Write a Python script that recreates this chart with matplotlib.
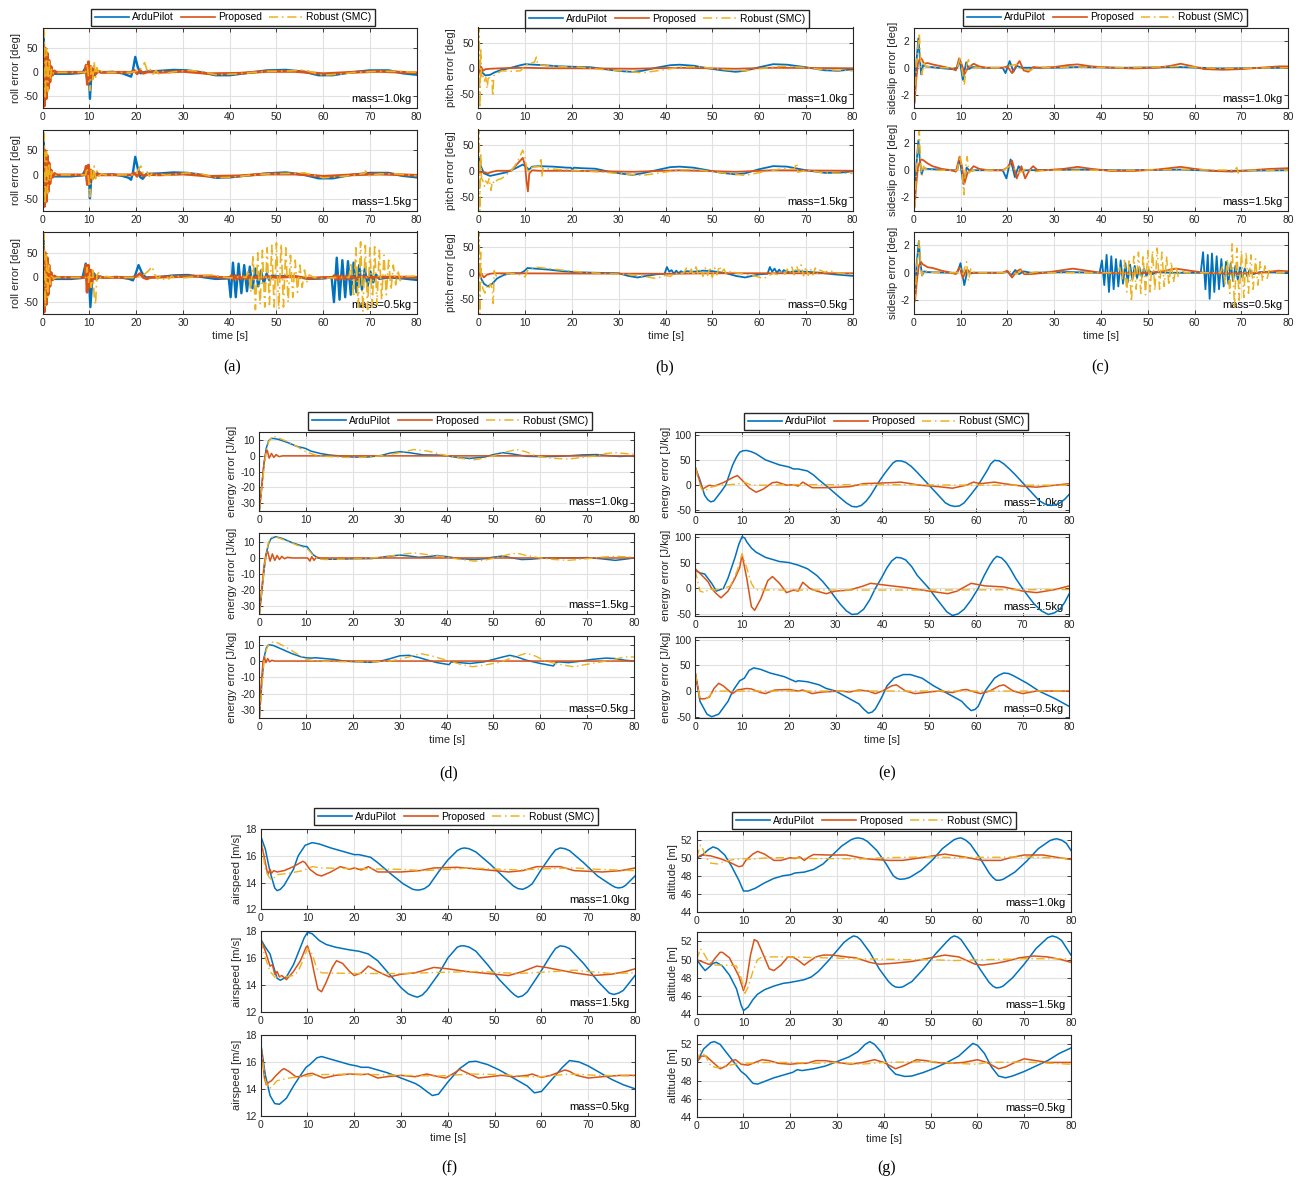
import matplotlib
matplotlib.use("Agg")
import matplotlib.pyplot as plt
from matplotlib.lines import Line2D

plt.rcParams['font.family'] = ['Liberation Sans', 'DejaVu Sans']
plt.rcParams['axes.unicode_minus'] = False

# ---------------- data (time [s], value) ----------------
series_labels = ["ArduPilot", "Proposed", "Robust (SMC)"]
mass_labels = ["mass=1.0kg", "mass=1.5kg", "mass=0.5kg"]
time_ticks = [0, 10, 20, 30, 40, 50, 60, 70, 80]

# (a) roll error [deg]
roll_10_ap = [(0,0),(0.2,85),(0.45,-30),(0.7,40),(0.95,-35),(1.2,20),(1.5,-12),(1.8,6),(2.2,-3),(3,-3),(6,-3),(8.5,-1),(9.2,10),(9.5,-15),(9.8,18),(10.1,-55),(10.4,-5),(10.7,8),(11.1,-6),(11.6,3),(12.5,0),(15,1),(17,-2),(18.4,-7),(18.9,-9),(19.3,5),(19.8,32),(20.3,12),(20.9,-2),(22,1),(25,3),(28,5),(31,4),(34,0),(37,-6),(40,-6),(44,-1),(48,4),(52,5),(56,1),(59,-6),(62,-6),(66,0),(70,4),(74,4),(77,-2),(80,-5)]
roll_10_pr = [(0,0),(0.15,60),(0.35,-70),(0.55,50),(0.75,-55),(0.95,40),(1.15,-35),(1.35,25),(1.55,-20),(1.8,12),(2.1,-6),(2.5,3),(3,0),(9,0),(9.3,15),(9.55,-25),(9.8,22),(10.05,-18),(10.3,12),(10.6,-10),(10.9,6),(11.3,-4),(11.8,2),(12.5,0),(19,0),(19.6,4),(20.2,-3),(20.8,4),(21.5,-2),(22.5,1),(25,0),(30,2),(36,-3),(42,-2),(48,2),(54,2),(60,-3),(66,0),(72,2),(80,-1)]
roll_10_smc = [(0,0),(0.3,88),(0.55,-55),(0.8,50),(1.05,-40),(1.3,28),(1.6,-15),(1.9,8),(2.3,-3),(3,0),(9.2,0),(9.5,18),(9.8,-10),(10.1,-38),(10.4,12),(10.7,-15),(11.0,22),(11.3,-10),(11.6,10),(12,-3),(12.5,2),(13.5,0),(19,0),(20,2),(21,8),(21.8,20),(22.4,2),(23,6),(23.6,-4),(24.2,4),(24.8,-3),(25.5,3),(26.5,-2),(28,1),(31,4),(34,2),(37,-5),(40,-4),(44,-1),(48,2),(53,3),(56,5),(58,-1),(60,-6),(63,-4),(67,0),(72,2),(76,2),(80,0)]

roll_15_ap = [(0,0),(0.2,85),(0.45,-35),(0.7,38),(0.95,-30),(1.2,18),(1.5,-10),(1.8,5),(2.2,-3),(3,-3),(6,-3),(8.5,-1),(9.2,12),(9.5,-15),(9.8,20),(10.1,-48),(10.4,-5),(10.7,8),(11.1,-5),(11.6,3),(12.5,0),(15,1),(17,-2),(18.4,-6),(18.9,-10),(19.3,5),(19.8,37),(20.3,15),(20.9,-5),(21.4,-8),(22.2,2),(25,3),(28,5),(31,4),(34,0),(37,-6),(40,-5),(44,-1),(48,3),(52,5),(56,0),(59,-7),(62,-7),(66,0),(70,4),(74,4),(77,-2),(80,-5)]
roll_15_pr = [(0,0),(0.15,55),(0.35,-65),(0.55,50),(0.75,-55),(0.95,40),(1.15,-35),(1.35,25),(1.55,-18),(1.8,10),(2.1,-5),(2.5,3),(3,0),(9,0),(9.3,18),(9.55,-20),(9.8,20),(10.05,-15),(10.3,10),(10.6,-8),(10.9,5),(11.3,-3),(11.8,2),(12.5,0),(19,0),(19.6,4),(20.2,-3),(20.8,5),(21.5,-2),(22.5,1),(25,0),(30,2),(36,-3),(42,-2),(48,2),(54,2),(60,-3),(66,0),(72,2),(80,-1)]
roll_15_smc = [(0,0),(0.3,85),(0.55,-60),(0.8,48),(1.05,-38),(1.3,25),(1.6,-14),(1.9,7),(2.3,-3),(3,0),(9.2,0),(9.5,15),(9.8,-8),(10.1,-45),(10.4,10),(10.7,-12),(11.0,18),(11.3,-8),(11.6,8),(12,-3),(12.5,2),(13.5,0),(19,0),(20,2),(20.5,12),(21.0,18),(21.5,4),(22.2,8),(22.8,-3),(23.4,3),(24,-2),(25,2),(26.5,-1),(28,1),(31,4),(34,2),(37,-6),(40,-5),(44,-1),(48,2),(53,3),(56,4),(58,-1),(60,-6),(63,-4),(67,0),(68.8,3),(69.1,8),(69.4,-2),(72,2),(76,2),(80,-2)]

roll_05_ap = [(0,0),(0.2,85),(0.45,-35),(0.7,40),(0.95,-30),(1.2,18),(1.5,-10),(1.8,5),(2.2,-3),(3,-3),(6,-3),(8.5,-1),(9.2,28),(9.5,-10),(9.8,15),(10.2,-60),(10.6,-5),(11,8),(11.5,-4),(12.2,2),(13,0),(16,1),(18.5,-3),(19.3,-6),(19.8,5),(20.5,25),(21.2,10),(22,0),(25,1),(28,4),(31,5),(34,1),(37,-3),(39.8,-2),(40.2,-40),(40.7,30),(41.3,-40),(41.9,28),(42.5,-32),(43.1,25),(43.7,-28),(44.3,22),(44.9,-22),(45.5,18),(46.1,-18),(46.7,14),(47.3,-12),(47.9,8),(48.5,-6),(49.1,4),(50,2),(53,3),(57,-3),(60,-2),(61.8,0),(62.3,-50),(62.9,40),(63.5,-45),(64.1,35),(64.7,-40),(65.3,33),(65.9,-35),(66.5,30),(67.1,-30),(67.7,25),(68.3,-25),(68.9,18),(69.5,-18),(70.1,12),(70.7,-10),(71.3,6),(72,-3),(74,0),(77,-2),(80,-5)]
roll_05_pr = [(0,0),(0.15,60),(0.35,-70),(0.55,50),(0.75,-55),(0.95,40),(1.15,-35),(1.35,25),(1.55,-18),(1.8,10),(2.1,-5),(2.5,3),(3,0),(9,0),(9.25,25),(9.5,-30),(9.75,25),(10.0,-20),(10.25,15),(10.5,-10),(10.8,6),(11.2,-3),(11.8,2),(12.5,0),(19,0),(20,2),(20.8,8),(21.5,0),(22.3,-3),(23,0),(30,2),(35,3),(38,0),(40,0),(40.4,4),(40.8,-4),(41.2,4),(41.6,-4),(42,3),(42.5,-3),(43,3),(43.5,-3),(44,2),(45,-2),(46,2),(47,-2),(48,2),(50,0),(54,2),(57,-2),(60,0),(62,0),(62.4,4),(62.8,-4),(63.2,4),(63.6,-4),(64,3),(64.5,-3),(65,3),(65.5,-3),(66,2),(67,-2),(68,2),(70,0),(75,1),(80,0)]
roll_05_smc = [(0,0),(0.3,88),(0.55,-60),(0.8,50),(1.05,-40),(1.3,25),(1.6,-14),(1.9,7),(2.3,-3),(3,0),(9.2,0),(9.5,20),(9.8,-10),(10.1,10),(10.4,-20),(10.7,15),(11.0,-35),(11.3,-55),(11.6,5),(12,10),(12.5,-3),(13.5,2),(15,0),(20,0),(21,3),(22,8),(22.8,15),(23.4,22),(24,5),(24.6,-3),(25.2,3),(25.8,-4),(26.4,3),(27,-3),(27.6,3),(28.2,-2),(29,2),(30,-1),(33,2),(36,5),(38,2),(40,-1),(42,1),(43.5,0),(44.0,15),(44.5,-30),(45.0,45),(45.5,-65),(46.0,50),(46.5,-55),(47.0,55),(47.5,-60),(48.0,60),(48.5,-55),(49.0,65),(49.5,-60),(50.0,70),(50.5,-65),(51.0,68),(51.5,-60),(52.0,60),(52.5,-50),(53.0,45),(53.5,-40),(54.0,35),(54.5,-30),(55.0,25),(55.5,-20),(56.0,15),(56.5,-10),(57.0,5),(58,0),(60,-2),(63,0),(65.5,0),(66,30),(66.5,-40),(67,60),(67.5,-60),(68,72),(68.5,-70),(69,65),(69.5,-65),(70,60),(70.5,-60),(71,62),(71.5,-55),(72,55),(72.5,-45),(73,45),(73.5,-35),(74,35),(74.5,-25),(75,25),(75.5,-15),(76,15),(76.5,-8),(77,5),(78,2),(80,3)]

# (b) pitch error [deg]
pitch_10_ap = [(0,15),(0.3,5),(0.8,-8),(1.5,-14),(2.5,-13),(3.5,-8),(5,-3),(7,1),(9,6),(10,8),(12,7),(14,6),(17,4),(20,3),(24,2),(28,-3),(31,-6),(33,-7),(35,-5),(38,1),(41,6),(43,7),(46,5),(49,0),(52,-4),(55,-7),(57,-5),(60,2),(63,8),(66,7),(70,2),(74,-4),(77,-5),(80,-2)]
pitch_10_pr = [(0,0),(0.1,15),(0.3,-8),(0.6,3),(1.0,-5),(1.5,-2),(2.5,-1),(5,0),(10,1),(15,0),(20,0),(33,-1),(43,1),(55,-1),(63,1),(80,0)]
pitch_10_smc = [(0,0),(0.2,80),(0.35,-78),(0.5,40),(0.7,-20),(1.0,-15),(1.3,-25),(1.6,-18),(1.9,-40),(2.1,-20),(2.5,-18),(2.9,-20),(3.1,-55),(3.3,-15),(4,-10),(5,-5),(7,-6),(9,-5),(10,5),(11,10),(12,12),(12.4,22),(12.7,8),(13.5,6),(15,5),(18,3),(22,2),(27,-3),(31,-5),(35,-9),(39,-4),(43,2),(47,3),(50,0),(53,-3),(57,-5),(61,0),(65,4),(69,2),(73,-2),(77,-4),(80,-5)]

pitch_15_ap = [(0,0),(0.2,25),(0.5,10),(1.2,-5),(2.5,-10),(4,-7),(6,-3),(8,5),(9.5,12),(10.3,7),(10.8,2),(11.5,8),(13,9),(16,8),(19,6),(19.8,6),(20.1,2),(20.4,6),(22,5),(25,4),(28,-2),(31,-6),(33,-8),(35,-5),(38,1),(41,7),(43,8),(46,6),(49,1),(52,-4),(55,-7),(57,-5),(60,3),(63,9),(66,8),(70,1),(74,-4),(77,-4),(80,-1)]
pitch_15_pr = [(0,0),(0.1,8),(0.4,-5),(1.0,-2),(2,-5),(3,-2),(4,0),(7,0),(8,10),(9.5,25),(10,10),(10.3,-20),(10.6,-40),(10.9,-5),(11.5,1),(13,0),(20,0),(33,-2),(43,1),(55,-2),(63,1),(80,0)]
pitch_15_smc = [(0,0),(0.2,80),(0.35,-78),(0.5,35),(0.7,-15),(1.0,-20),(1.3,-30),(1.6,-20),(2.0,-25),(2.3,-15),(2.7,-38),(3.0,-20),(3.5,-25),(4,-18),(5,-15),(6,-8),(7.5,5),(8.5,20),(9.5,40),(10,25),(10.5,-5),(11,5),(12,8),(13,8),(13.4,25),(13.6,-12),(13.8,5),(15,4),(18,2),(22,0),(27,-3),(31,-6),(35,-9),(39,-4),(43,2),(47,2),(50,-2),(53,-5),(57,-9),(61,-2),(65,4),(67.5,3),(68,15),(68.3,-3),(70,1),(74,-4),(78,-5),(80,-5)]

pitch_05_ap = [(0,0),(0.2,10),(0.6,-10),(1.2,-20),(2,-25),(3,-20),(4,-10),(5.5,-3),(7,0),(9,0),(9.8,4),(10.5,10),(12,9),(15,7),(18,4),(21,2),(25,1),(30,0),(32,-5),(34,-8),(36,-5),(38,-2),(39.8,-1),(40.3,12),(40.8,3),(41.3,6),(41.8,-1),(42.3,5),(42.8,0),(43.3,4),(43.8,1),(44.5,4),(46,3),(48,5),(50,4),(53,0),(55,-5),(57,-8),(58.5,-5),(60,-2),(61.8,-1),(62.3,12),(62.8,3),(63.3,9),(63.8,1),(64.3,7),(64.8,1),(65.3,6),(66,2),(68,4),(70,3),(73,1),(76,-2),(80,-5)]
pitch_05_pr = [(0,0),(0.15,8),(0.4,-8),(0.8,-3),(1.2,-8),(1.8,-3),(2.5,-1),(3.5,0),(40,-1),(50,0),(80,0)]
pitch_05_smc = [(0,0),(0.2,80),(0.35,-78),(0.5,40),(0.7,-15),(1.0,-30),(1.4,-38),(1.8,-25),(2.2,-30),(2.6,-20),(3.0,-30),(3.2,-58),(3.4,5),(3.8,-5),(5,-3),(7,0),(9,-3),(10,-7),(10.5,5),(12,12),(14,10),(17,7),(20,4),(24,1),(28,-1),(32,-2),(36,-7),(38,-10),(40,-4),(41,-6),(42,0),(43,-3),(44,2),(44.5,10),(45,-3),(45.5,8),(46,-5),(46.5,12),(47,-2),(47.5,8),(48,-6),(48.5,10),(49,-4),(49.5,12),(50,-8),(50.5,10),(51,-3),(51.5,14),(52,2),(52.5,8),(53,-2),(54,4),(55,1),(57,-2),(59,-5),(61,-10),(62,-5),(63,0),(64,-3),(65,5),(65.5,-2),(66,8),(66.5,0),(67,12),(67.5,-3),(68,14),(68.5,2),(69,16),(69.5,-5),(70,12),(70.5,-4),(71,8),(71.5,-3),(72,10),(72.5,-2),(73,6),(74,2),(75,5),(77,0),(80,-2)]

# (c) sideslip error [deg]
slip_10_ap = [(0,-2.2),(0.3,-1.5),(0.6,0.5),(1.0,2.2),(1.3,0.8),(1.6,-0.5),(2.0,0.2),(2.5,0.1),(5,0),(8,-0.1),(9.3,0),(9.8,0.6),(10.5,-0.9),(11.2,0.4),(11.8,-0.1),(12.5,0.05),(15,0),(19,0),(19.6,-0.4),(20.5,0.5),(21.3,-0.3),(22,0.15),(23,0),(30,0),(35,0.05),(45,0),(57,0.05),(65,-0.05),(80,0)]
slip_10_pr = [(0,-2.7),(0.2,-2.6),(0.5,-1.0),(0.9,0.3),(1.4,0.75),(1.8,0.6),(2.2,0.3),(3,0.35),(4,0.25),(6,0.1),(8,-0.05),(9,-0.2),(9.7,0.7),(10.3,0.2),(10.9,-0.45),(11.6,0.0),(12.8,0.3),(14,0.1),(15.5,0),(19,0),(20,0.1),(21,-0.4),(21.8,0.1),(22.6,0.5),(23.5,-0.2),(24.5,-0.3),(25.5,0.05),(27,0),(30,0.05),(33,0.2),(35,0.25),(38,0.1),(42,0),(47,-0.05),(52,0),(55,0.15),(57,0.3),(59,0.15),(62,-0.1),(66,-0.15),(70,-0.1),(74,0.0),(78,0.1),(80,0.1)]
slip_10_smc = [(0,-2.7),(0.3,-2.0),(0.6,0.5),(0.9,1.5),(1.2,2.6),(1.5,0.2),(1.8,-0.5),(2.1,0.5),(2.5,0.1),(5,0),(9.3,0),(9.9,0.7),(10.4,-0.3),(10.8,-1.3),(11.3,0.2),(11.7,0.6),(12.2,-0.1),(13,0),(19,0),(20.5,0.15),(22,0.25),(23,-0.1),(25,-0.2),(26,0.1),(28,0),(35,0.05),(45,0),(57,0.1),(65,-0.05),(80,0)]

slip_15_ap = [(0,-2.5),(0.3,-1.5),(0.6,0.5),(1.0,2.2),(1.3,0.8),(1.7,-0.3),(2.1,0.15),(3,0.1),(8,0),(9.3,0),(9.8,0.9),(10.6,-1.0),(11.3,0.2),(12,-0.05),(13,0),(19,0),(19.8,-0.6),(20.7,0.8),(21.6,-0.5),(22.4,0.3),(23.2,-0.05),(24,0),(35,0.05),(45,0),(57,0.05),(65,-0.05),(80,0)]
slip_15_pr = [(0,-2.8),(0.2,-2.7),(0.5,-1.2),(0.9,0.2),(1.5,0.8),(2,0.75),(3,0.5),(4,0.3),(6,0.1),(8,0),(9,-0.1),(9.8,1.0),(10.3,0.3),(10.8,-1.0),(11.5,-0.2),(12.8,0.3),(14,0.1),(16,0),(19,0),(20,0.2),(21,0.7),(22,-0.6),(23,0.3),(23.8,-0.6),(24.7,0),(25.5,0.3),(26.5,0),(28,0),(32,0.1),(35,0.25),(38,0.1),(42,-0.05),(47,-0.05),(52,0.05),(57,0.25),(60,0.1),(64,-0.05),(68,-0.1),(72,0),(76,0.1),(80,0.15)]
slip_15_smc = [(0,-2.8),(0.3,-2.5),(0.6,0.5),(0.9,1.6),(1.2,2.9),(1.5,0.3),(1.8,-0.4),(2.1,0.3),(2.5,0.1),(5,0),(9.3,0),(9.9,1.1),(10.4,-0.3),(10.7,-1.8),(11.1,0.3),(11.4,1.0),(11.8,-0.2),(12.5,0),(19,0),(20.5,0.3),(21.5,0.1),(22.5,-0.2),(24,0.1),(26,-0.1),(28,0),(45,0),(57,0.05),(68.5,0),(69,0.2),(69.3,-0.2),(69.6,0),(80,0)]

slip_05_ap = [(0,-2.2),(0.3,-1.6),(0.6,0.5),(1.1,2.3),(1.4,0.8),(1.8,-0.2),(2.2,0.1),(3,0.05),(8,0),(9.3,0),(10.0,0.7),(10.8,-0.9),(11.5,0.2),(12.2,-0.05),(13,0),(19,0),(20,0.1),(20.8,-0.2),(21.7,0.2),(22.5,-0.1),(23.5,0.1),(25,0),(33,0.05),(39.7,0),(40.2,0.9),(40.7,-0.9),(41.2,1.3),(41.7,-1.4),(42.2,1.2),(42.7,-1.2),(43.2,1.0),(43.7,-1.0),(44.2,0.9),(44.7,-0.8),(45.2,0.7),(45.7,-0.7),(46.2,0.6),(46.7,-0.5),(47.2,0.5),(47.7,-0.4),(48.2,0.4),(48.7,-0.3),(49.2,0.3),(49.7,-0.25),(50.2,0.2),(51,-0.1),(52,0.05),(55,0),(61.3,0),(61.8,1.5),(62.3,-1.2),(62.8,1.3),(63.2,-1.9),(63.7,1.4),(64.2,-1.4),(64.7,1.2),(65.2,-1.2),(65.7,1.0),(66.2,-1.0),(66.7,0.8),(67.2,-0.8),(67.7,0.7),(68.2,-0.6),(68.7,0.5),(69.2,-0.5),(69.7,0.4),(70.2,-0.35),(70.7,0.3),(71.2,-0.25),(71.7,0.2),(72.5,-0.1),(74,0.05),(80,0)]
slip_05_pr = [(0,-2.2),(0.3,-2.0),(0.7,-0.5),(1.1,0.5),(1.5,0.8),(2,0.6),(3,0.4),(4,0.35),(6,0.15),(8,0),(9,-0.1),(9.8,0.4),(10.5,-0.4),(11.2,0.2),(12,0),(19,0),(20,0.15),(21,-0.35),(22,0.1),(22.8,0.25),(23.6,-0.1),(25,-0.1),(28,0),(31,0.15),(34,0.3),(36,0.2),(40,0),(45,-0.05),(50,0),(53,0.1),(56,0.3),(58,0.2),(62,0),(66,-0.05),(70,-0.05),(74,0),(78,0.15),(80,0.1)]
slip_05_smc = [(0,-2.2),(0.3,-1.8),(0.6,0.3),(0.9,1.2),(1.2,2.3),(1.5,0.3),(1.8,-0.2),(2.2,0.2),(3,0.05),(8,0),(9.3,0),(10,0.3),(10.5,-0.1),(11.3,0.8),(11.7,-0.6),(12.2,0.3),(13,0),(19,0),(21,0.1),(22,-0.1),(23,0.2),(24,-0.1),(26,0.05),(30,0),(43.5,0),(44,0.4),(44.5,-0.6),(45,0.9),(45.5,-1.4),(46,1.0),(46.5,-2.1),(47,1.2),(47.5,-1.2),(48,1.5),(48.5,-1.5),(49,1.3),(49.5,-1.6),(50,1.6),(50.5,-1.4),(51,1.6),(51.5,-1.3),(52,1.8),(52.5,-1.2),(53,1.5),(53.5,-1.0),(54,1.2),(54.5,-0.9),(55,0.8),(55.5,-0.7),(56,0.5),(56.5,-0.3),(57,0.2),(58,0),(65.5,0),(66,0.5),(66.5,-0.8),(67,1.0),(67.5,-1.5),(68,2.1),(68.5,-2.6),(69,1.8),(69.5,-2.0),(70,1.6),(70.5,-1.8),(71,1.5),(71.5,-1.5),(72,1.3),(72.5,-1.2),(73,1.0),(73.5,-0.9),(74,0.8),(74.5,-0.6),(75,0.5),(75.5,-0.4),(76,0.3),(77,0),(80,0.05)]

# (d) energy error [J/kg]
en_10_ap = [(0,-35),(0.5,-20),(1,-5),(1.5,5),(2,9.5),(2.5,11),(3,11),(4,10.5),(6,8.5),(8,6),(9.5,5),(10,4.5),(11,3),(13,1.5),(15,0.5),(17,0),(20,-0.8),(23,-0.8),(26,0.2),(28,1.8),(30,2.6),(32,2),(35,0.6),(38,0.5),(40,0),(43,-1.3),(45,-1.6),(48,-0.8),(50,0.8),(52,2),(54,1.2),(57,-0.3),(60,-0.5),(63,-0.4),(66,0),(69,0.6),(72,0.8),(75,0),(77,-0.4),(80,0)]
en_10_pr = [(0,-35),(0.5,-20),(1,-5),(1.4,2),(1.7,3.5),(2.1,-1.5),(2.6,1.5),(3.1,-1),(3.6,0.8),(4.2,-0.5),(5,0),(80,0)]
en_10_smc = [(0,-35),(0.5,-22),(1,-8),(1.5,3),(2,9),(2.5,11),(3,12.5),(4,11.5),(6,9),(8,6),(10,2.5),(12,0.5),(14,-0.3),(18,-1),(22,-1),(26,0),(30,2),(33,4),(36,3),(38,1.5),(41,-0.5),(44,-2),(46,-2.5),(48,-1.5),(50,0),(52,2),(55,4),(57,2.5),(59,0),(62,-1.5),(66,-2),(69,-1),(72,0),(74,1.5),(76,2),(78,1.5),(80,1)]

en_15_ap = [(0,-35),(0.5,-22),(1,-8),(1.5,3),(2,9),(2.5,12),(3.5,13.2),(5,12),(7,9.5),(8.5,8),(9.5,7.2),(10.2,7),(10.7,5),(11.5,2),(12.5,0),(14,-0.8),(17,-0.8),(20,-0.5),(24,-0.4),(27,0.8),(30,1.8),(32,1.2),(34,0.4),(36,0.8),(38,1.5),(40,0.8),(43,-0.5),(46,-1),(48,-0.5),(50,0.5),(52,1.2),(54,0),(56,-1),(58,-0.8),(61,0),(65,0),(70,0.2),(73,-0.5),(76,-1.5),(78,-0.8),(80,0)]
en_15_pr = [(0,-35),(0.5,-20),(1,-5),(1.4,2),(1.8,4),(2.3,-2),(2.8,2.5),(3.3,-1.5),(3.8,1.5),(4.3,-1),(4.8,1),(5.4,-0.5),(6,0.4),(7,0),(10.3,0),(10.8,-2),(11.2,0.8),(11.7,-1.5),(12.2,0.5),(13,0),(80,0)]
en_15_smc = [(0,-35),(0.5,-22),(1,-8),(1.5,3),(2,10),(2.5,12.5),(3,13.3),(4,12.5),(6,10.5),(8,8),(9.5,6.5),(10.5,5),(11.5,1.5),(12.5,-0.5),(14,-1),(18,-0.8),(22,-0.5),(26,0.5),(30,2),(33,3.2),(36,2),(40,0.5),(43,-1),(46,-2),(48,-1.5),(51,0.5),(53,2),(55,3),(57,1.5),(60,0),(63,-1),(66,-1.5),(70,-0.5),(73,0.5),(76,1),(80,0.5)]

en_05_ap = [(0,-35),(0.5,-15),(1,2),(1.5,8),(2,10),(3,9.5),(5,7),(7,4.5),(9,2.5),(10,2),(11,1.8),(12,2),(14,1.5),(16,1),(18,0),(21,-0.5),(24,-0.8),(26,0),(28,1.5),(30,3.2),(32,3.5),(34,2.2),(36,0.5),(38,-1),(40.5,-2.2),(41,-0.5),(42,-0.8),(45,-1.5),(48,-0.5),(50,1),(52,2.5),(53.5,3.5),(55,2.5),(57,0.5),(60,-1.5),(62.8,-3),(63.3,-0.8),(64,-0.5),(66,-1),(68,-0.3),(71,1),(74,1.8),(76,1.5),(78,0.5),(80,0)]
en_05_pr = [(0,-35),(0.4,-15),(0.8,0),(1.1,2.5),(1.4,-1),(1.8,1.5),(2.2,-0.5),(2.7,0.5),(3.2,0),(80,0)]
en_05_smc = [(0,-35),(0.5,-18),(1,0),(1.5,7),(2,10),(3,11.8),(4,11),(6,8),(8,4.5),(10,1),(12,0),(15,-0.3),(20,-0.5),(25,-0.5),(28,0),(31,1.8),(34.5,4.5),(37,3),(40,0.5),(43,-2),(45.5,-3.5),(48,-2.5),(51,-1),(54,2),(57,4.8),(59,3),(61,0),(64,-2),(67,-3.5),(70,-2),(73,-0.5),(75,0.5),(78,2.5),(80,2.5)]

# (e) energy error [J/kg]
en2_10_ap = [(0,35),(1,10),(2,-20),(2.7,-29),(3.3,-33),(4,-31),(4.5,-25),(5.5,-13),(6.5,0),(8,40),(8.8,55),(9.5,65),(10.2,68),(11,68.5),(12,66),(13,62),(15,50),(18,40),(20,36),(21,32),(22,32),(24,28),(25.3,20),(26.5,10),(28.5,-5),(31,-25),(32.3,-35),(33.5,-42),(34.5,-43),(35.5,-40),(36.5,-32),(37.5,-20),(38.5,-5),(39.5,10),(40.5,23),(41.5,35),(42.3,44),(43,48),(44,48),(45,45),(46.2,37),(47.5,25),(48.8,12),(50,0),(51.2,-12),(52.5,-25),(53.5,-35),(54.5,-40),(55.5,-42),(56.5,-41),(57.5,-35),(59,-18),(60.5,0),(61.5,15),(62.5,30),(63.2,42),(64,49),(65,48),(66,42),(67.2,32),(68.5,20),(70.5,0),(72,-15),(73.5,-30),(74.7,-37),(76,-40),(77,-39),(78,-35),(79,-28),(80,-18)]
en2_10_pr = [(0,35),(1.5,-8),(3,0),(4,-2),(6,5),(8,15),(9,19),(10,10),(11.5,-5),(13,-14),(14.5,-8),(16.5,5),(17.5,6),(19.5,0),(21,1),(22,-2),(23,6),(25,-5),(28,-5),(33,-3),(36,3),(39,4),(42,5),(44,6),(46,3),(48,0),(52,-3),(55,-6),(58,0),(59.5,6),(61,3),(64,6),(66,3),(70,-2),(73,-4),(77,0),(80,3)]
en2_10_smc = [(0,35),(1,0),(1.5,-10),(2,-12),(3,-5),(5,0),(9,2),(10.5,6),(12,0),(15,0),(20,1),(40,1),(60,0),(80,0)]

en2_15_ap = [(0,35),(1,30),(2,28),(3.5,10),(4.5,-5),(6,0),(7,20),(8.5,60),(9.3,85),(10,100),(10.6,97),(11,90),(12,78),(13,70),(15,60),(18,52),(20,50),(22,45),(24,38),(26,25),(27.3,13),(28.5,0),(29.8,-16),(31,-30),(32.3,-43),(33.5,-50),(34.7,-49),(36,-40),(37.3,-22),(38.5,0),(39.8,20),(41,40),(42,53),(43,60),(44,59),(45,55),(46.3,42),(47.5,25),(48.8,12),(50,0),(51.2,-15),(52.5,-30),(53.8,-45),(55,-52),(56.2,-49),(57.5,-40),(59,-22),(60.5,0),(61.8,25),(63,45),(63.8,56),(64.5,62),(65.5,59),(66.5,50),(67.5,36),(68.5,20),(70,0),(71.2,-15),(72.5,-30),(74,-43),(75.5,-50),(76.8,-47),(78,-40),(79,-27),(80,-10)]
en2_15_pr = [(0,38),(2,20),(2.8,12),(3.5,0),(4.5,-10),(5.5,-18),(7,-5),(8.5,20),(9.5,40),(10,65),(11,20),(12,-35),(12.7,-42),(14,-20),(15.5,15),(16.5,23),(18,10),(19.5,-8),(21,-3),(22,-5),(23,12),(24.5,0),(26,-5),(28,-10),(30,-5),(33,-3),(36,5),(37.5,10),(42,5),(45,2),(50,-5),(54,-10),(56,-5),(59,10),(62,5),(66,3),(70,-5),(73,-8),(77,-2),(80,5)]
en2_15_smc = [(0,35),(1,-5),(2,-8),(3,0),(4,-3),(6,0),(7.5,5),(9,35),(10,67),(11,40),(12,10),(12.8,-2),(14,-3),(30,-3),(50,-3),(80,-2)]

en2_05_ap = [(0,35),(1,-20),(2.5,-45),(3.5,-50),(5,-45),(7,-20),(8,0),(9.5,20),(10.5,25),(11.5,40),(12.5,45),(14,42),(16,35),(19,28),(20.5,22),(21.5,18),(22,20),(24,18),(26.5,12),(28,5),(30,0),(33,-15),(35,-25),(36,-35),(37,-43),(37.8,-41),(38.5,-35),(39.3,-22),(40,-10),(41,10),(42.5,25),(44.5,32),(46,32),(48.5,25),(51,10),(53,0),(55,-10),(57,-20),(58,-30),(59,-38),(59.8,-36),(60.5,-30),(62,0),(64,25),(65,31),(66,35),(67,34),(68,30),(71,15),(73.5,0),(77,-15),(80,-30)]
en2_05_pr = [(0,35),(1,-15),(2,-15),(3,-12),(4,5),(5,15),(6,10),(7.5,-2),(8,-5),(9,2),(11,5),(12,4),(14,-3),(15,-5),(17,2),(20,3),(22,0),(23,2),(25,-5),(27,-2),(31,0),(33,-2),(35,2),(37,0),(38.5,-5),(40,0),(42,10),(43,12),(45,0),(47,-5),(50,-2),(52,0),(55,-3),(57,2),(58,3),(59,0),(61,-5),(63,0),(65,10),(66,12),(68,0),(70,-5),(73,0),(80,0)]
en2_05_smc = [(0,35),(1,-15),(2,-18),(3,-10),(4,0),(80,0)]

# (f) airspeed [m/s]
air_10_ap = [(0,17.5),(1,16.5),(2,14.8),(3,13.6),(3.5,13.4),(4.2,13.5),(5,13.8),(7,15),(8,16),(9.5,16.8),(11,17.0),(12.5,16.9),(15,16.6),(18,16.3),(20,16.1),(21,16.1),(23.5,15.9),(25,15.5),(28,14.6),(30.5,13.9),(32.5,13.5),(33.3,13.45),(34,13.45),(35,13.55),(36,13.8),(38,14.8),(40,15.7),(42,16.4),(42.8,16.55),(43.5,16.6),(44.5,16.55),(46,16.3),(49,15.4),(52,14.4),(54,13.75),(55,13.55),(56,13.5),(57,13.65),(58,13.9),(60,15),(62,16),(63,16.45),(64,16.6),(65,16.55),(66,16.4),(69,15.5),(72,14.5),(75,13.8),(75.8,13.65),(76.5,13.6),(77.3,13.65),(78,13.8),(80,14.5)]
air_10_pr = [(0,17.2),(1,15.5),(1.5,14.6),(2,15),(2.3,14.7),(2.8,14.9),(3.5,14.8),(5,14.9),(7,15.2),(9,15.6),(9.5,15.5),(10.5,15.0),(12,14.6),(13,14.5),(15,14.8),(17,15.2),(19,15.0),(20,15.1),(21.5,14.95),(23,15.2),(25,14.8),(30,14.8),(34,14.9),(37,15.1),(42,15.15),(47,15.0),(53,14.8),(56,14.9),(59,15.2),(64,15.2),(67,14.9),(73,14.8),(77,14.9),(80,15.1)]
air_10_smc = [(0,17.2),(1,15.0),(1.8,14.4),(2.4,14.2),(3.5,14.6),(6,14.7),(9,14.9),(11,15.2),(13,15.1),(20,15.05),(30,15.0),(35,14.9),(40,15.0),(45,15.1),(55,14.95),(62,15.05),(67,15.1),(72,15.0),(80,14.9)]

air_15_ap = [(0,17.4),(1,16.8),(2,16.3),(2.8,15.3),(3.5,14.5),(4.2,14.35),(5.5,14.6),(7,15.5),(8.5,16.8),(9.3,17.5),(10,17.9),(11,17.8),(12.5,17.3),(14,17.0),(16,16.8),(19,16.6),(21,16.5),(23,16.3),(25,15.8),(27.5,14.8),(30,13.8),(31.5,13.35),(32.5,13.2),(33.5,13.1),(34.5,13.25),(35.5,13.6),(38,14.8),(40,16),(42,16.8),(42.8,16.9),(43.5,16.9),(44.6,16.8),(46,16.5),(48.5,15.5),(51,14.4),(53.5,13.5),(54.3,13.25),(55,13.1),(56,13.2),(57,13.5),(59.5,14.8),(62,16.2),(63,16.7),(64,16.9),(65,16.85),(66,16.7),(69,15.6),(72,14.3),(74.5,13.4),(75.5,13.3),(76.5,13.4),(77.5,13.6),(80,14.7)]
air_15_pr = [(0,17.4),(1,16.5),(2,15.4),(2.5,15.5),(3,14.8),(3.5,15.0),(4,14.6),(4.5,14.7),(5.5,14.4),(7,15.0),(8.5,15.8),(9.7,16.8),(10,16.9),(10.8,16.0),(11.5,14.8),(12.2,13.7),(13,13.5),(14,14.2),(15.3,15.3),(16.2,15.8),(17.5,15.6),(19,15.0),(20,14.7),(21.5,14.9),(23,15.4),(25,15.0),(27.5,14.6),(30,14.8),(33,14.9),(37,15.3),(40,15.2),(44,15.0),(50,14.8),(53,14.7),(56,15.0),(59,15.4),(61,15.3),(64,15.1),(67,14.9),(71,14.7),(75,14.8),(78,15.0),(80,15.2)]
air_15_smc = [(0,17.3),(1,16.0),(2,15.0),(3,14.6),(5,14.6),(7,14.7),(8,15.0),(9,15.8),(10,16.7),(11,16.3),(12,15.2),(13,14.9),(20,14.85),(30,14.85),(40,14.95),(47,15.0),(55,14.85),(63,15.0),(67,15.1),(70,15.0),(75,14.85),(80,14.9)]

air_05_ap = [(0,17.4),(1,15.0),(2,13.5),(3,12.9),(4,12.85),(5.5,13.3),(7,14.2),(8.5,15.0),(9.7,15.6),(10.5,15.8),(12,16.3),(13,16.4),(15,16.2),(17,16.0),(19,15.8),(20.5,15.7),(21.5,15.6),(23,15.6),(25,15.4),(27,15.2),(30,14.8),(33,14.4),(34,14.2),(35.5,13.8),(36.7,13.5),(38,13.6),(40,14.5),(42.5,15.5),(44.5,16.0),(46,16.05),(48.5,15.8),(51,15.4),(53.5,14.9),(55.5,14.5),(57,14.2),(58.5,13.7),(60,13.8),(62,14.6),(64.5,15.6),(66,16.1),(68,16.0),(70,15.7),(72.5,15.2),(75,14.7),(77.5,14.3),(80,14.0)]
air_05_pr = [(0,17.4),(0.8,14.8),(1.2,14.3),(1.8,14.5),(2.3,14.6),(3.3,15.0),(4.5,15.4),(5,15.5),(6,15.3),(7.5,14.9),(8.5,14.9),(10,15.1),(11,15.15),(13.5,14.8),(16,15.0),(19,15.1),(21.5,15.05),(23,15.1),(25,14.8),(27,14.9),(30,15.0),(33,14.9),(35.5,15.1),(38,14.9),(39.5,14.8),(41.5,15.2),(42.5,15.45),(44,15.2),(46.5,14.8),(49,14.9),(51.5,15.0),(54,14.9),(57,15.0),(58,15.1),(60,14.85),(62,15.0),(65,15.4),(66,15.3),(67.5,15.0),(70,14.8),(73,14.9),(77,15.0),(80,15.0)]
air_05_smc = [(0,17.2),(1,14.6),(1.8,14.0),(2.5,14.2),(3.5,14.6),(6,14.8),(9,14.9),(12,15.05),(20,15.1),(30,15.0),(38,14.95),(45,15.1),(52,15.05),(56,14.9),(60,14.9),(66,15.1),(72,15.0),(80,14.95)]

# (g) altitude [m]
alt_10_ap = [(0,50),(1,50.2),(2.5,50.9),(3.5,51.2),(4.5,51.0),(6,50.3),(7.5,49.0),(9,47.5),(10,46.3),(11,46.3),(12.5,46.6),(14.5,47.2),(16.5,47.7),(18.5,48.0),(20,48.1),(21,48.3),(23,48.4),(25,48.7),(27,49.3),(29,50.3),(31,51.3),(33,52.0),(33.8,52.15),(34.5,52.2),(35.5,52.1),(36.5,51.8),(38.5,50.8),(40.5,49.3),(42,48.0),(42.8,47.7),(43.5,47.6),(44.5,47.65),(45.5,47.8),(48,48.6),(50.5,49.8),(52.5,51.0),(55,52.0),(55.8,52.15),(56.5,52.2),(57.5,51.95),(58.5,51.5),(60.5,50.0),(62.5,48.3),(63.3,47.8),(64,47.5),(64.8,47.5),(65.5,47.6),(68,48.4),(70.5,49.6),(73,51.0),(75.5,51.9),(76.3,52.05),(77,52.1),(78,51.95),(79,51.6),(80,50.8)]
alt_10_pr = [(0,50),(1,50.3),(3,50.2),(5,49.9),(7,49.5),(9,49.0),(9.8,49.1),(10.5,49.7),(12,50.4),(13,50.7),(14.5,50.4),(16.5,49.7),(18,49.7),(20,50.0),(21,49.9),(22,50.1),(23,49.7),(24,50.1),(25,50.35),(28,50.3),(32,50.3),(36,49.9),(38,49.8),(41,49.7),(44,49.7),(48,50.0),(53,50.4),(57,50.1),(61,49.7),(65,49.7),(67,50.0),(70,50.3),(74,50.3),(77.5,50.0),(80,49.8)]
alt_10_smc = [(0,50),(0.8,51.4),(1.3,51.0),(2,50.0),(3,49.4),(4.5,49.3),(6,49.6),(8,49.8),(10,49.9),(11.5,49.8),(13,49.9),(16,50.0),(20,50.0),(25,49.9),(30,49.9),(35,49.85),(40,50.0),(45,50.05),(50,50.1),(55,50.0),(60,50.05),(65,50.05),(70,50.1),(75,50.0),(80,49.9)]

alt_15_ap = [(0,50.0),(1,49.3),(1.8,48.8),(2.7,49.2),(3.5,49.6),(4.2,49.7),(5.5,49.3),(7,48.3),(8.5,46.8),(9.5,45.0),(10,44.4),(11,44.8),(12,45.6),(13,46.2),(14.5,46.7),(16.5,47.1),(18.5,47.4),(20,47.5),(21,47.6),(23,47.8),(24.5,48.1),(26,48.7),(28,49.8),(30,51.0),(31.5,51.9),(32.5,52.3),(33.5,52.6),(34.3,52.5),(35,52.2),(37,50.8),(39,49.0),(41,47.6),(41.8,47.2),(42.5,47.0),(43.3,46.95),(44,47.0),(46,47.6),(48.5,49.0),(51,50.6),(53.5,52.0),(54.3,52.4),(55,52.6),(55.7,52.5),(56.5,52.2),(58.5,50.7),(60.5,49.0),(62.5,47.5),(63.3,47.1),(64,46.9),(64.8,46.95),(65.5,47.1),(67.5,48.0),(70,49.5),(72.5,51.2),(75,52.4),(76,52.6),(77,52.45),(78,52.1),(80,50.5)]
alt_15_pr = [(0,50.0),(1,49.8),(2.5,49.5),(3,49.5),(4,50.2),(5,50.8),(5.5,50.8),(7,50.2),(8,49.2),(9,48.2),(10,46.6),(10.6,47.5),(11.5,50.5),(12.3,52.2),(13,52.0),(14.2,50.6),(15.5,49.0),(16.5,48.8),(18,49.4),(19.5,50.3),(20.5,50.3),(21.5,50.0),(23,49.4),(24,49.8),(25.5,50.3),(27,50.5),(29,50.5),(32,50.3),(34,50.2),(37,49.7),(39,49.5),(42,49.6),(46,49.8),(50,50.2),(53,50.5),(56,50.3),(59.5,49.5),(61,49.4),(64,49.6),(66,49.8),(69,50.2),(72,50.4),(75,50.3),(78,50.0),(80,49.7)]
alt_15_smc = [(0,50),(0.8,51.2),(1.5,50.7),(2.5,49.8),(4,49.4),(7,49.4),(8.5,49.3),(9.5,48.0),(10.3,46.3),(11,47.0),(12,48.7),(13,50.0),(14,50.3),(20,50.3),(27,50.2),(35,50.1),(45,50.0),(50,50.0),(55,49.9),(62,50.0),(70,50.1),(80,50.1)]

alt_05_ap = [(0,50.0),(1.5,51.5),(3,52.2),(3.8,52.3),(5,52.0),(6.5,51.0),(8,50.0),(9.5,49.0),(10.5,48.6),(11,48.3),(12,47.7),(13,47.6),(14.5,47.9),(16.5,48.3),(18.5,48.6),(20.5,48.9),(21.5,49.2),(22.5,49.1),(25,49.3),(27.5,49.6),(30,50.1),(32.5,50.6),(34.5,51.2),(36,52.0),(37,52.3),(38,52.0),(39.5,51.1),(41,49.5),(42.5,48.7),(44.5,48.45),(46,48.5),(48.5,48.9),(51,49.4),(53.5,50.0),(56,50.7),(57.5,51.4),(59,52.1),(60,51.9),(61.5,51.0),(63,49.5),(64.5,48.5),(66,48.3),(67.5,48.5),(70,49.0),(72.5,49.6),(75,50.2),(77.5,51.0),(80,51.6)]
alt_05_pr = [(0,50.0),(1,50.7),(2,50.7),(3.5,50.0),(5,49.3),(6.3,49.6),(7.5,50.2),(8.3,50.3),(9.5,49.8),(11,49.7),(12.5,50.0),(14,50.3),(15.5,50.2),(17.5,49.9),(20,49.8),(22,49.9),(23.5,49.9),(25.5,50.2),(27.5,50.2),(30,50.0),(33,49.8),(35.5,50.0),(38,50.3),(40,50.0),(42.5,49.3),(44.5,49.7),(47,50.3),(49,50.2),(51,50.0),(54,49.9),(57,50.0),(60,50.3),(62,50.0),(64.5,49.3),(66,49.5),(68,50.0),(70,50.4),(72.5,50.2),(75,50.0),(80,50.0)]
alt_05_smc = [(0,50),(0.8,51.3),(2,50.6),(3,49.6),(4.5,49.4),(6,49.6),(8,49.8),(10,49.9),(15,50.0),(20,50.0),(25,49.9),(30,50.0),(35,49.8),(40,50.0),(50,50.1),(55,49.9),(60,49.8),(62,50.0),(70,50.05),(80,49.8)]

# ---------------- figure ----------------
W, H = 1304, 1180
fig = plt.figure(figsize=(W / 100, H / 100), dpi=100)

C_AP, C_PR, C_SMC = '#0072BD', '#D95319', '#EDB120'
SMC_DASH = (0, (6, 2.5, 1, 2.5))
TXT = '#262626'


def rect(left, top, right, bottom):
    return [left / W, 1 - bottom / H, (right - left) / W, (bottom - top) / H]


panels = [
    dict(x=(42.7, 416.7), rows=[(27.5, 108), (129.5, 211), (231.5, 314)],
         ylabel='roll error [deg]', ylim=(-74, 93), yticks=[-50, 0, 50],
         data=[(roll_10_ap, roll_10_pr, roll_10_smc), (roll_15_ap, roll_15_pr, roll_15_smc), (roll_05_ap, roll_05_pr, roll_05_smc)],
         lw=(1.7, 2.0, 1.2), leg=(233, 17.5), cap=('(a)', 232, 367)),
    dict(x=(478.3, 852.7), rows=[(27.5, 108), (129.5, 211), (231.5, 314)],
         ylabel='pitch error [deg]', ylim=(-78, 80), yticks=[-50, 0, 50],
         data=[(pitch_10_ap, pitch_10_pr, pitch_10_smc), (pitch_15_ap, pitch_15_pr, pitch_15_smc), (pitch_05_ap, pitch_05_pr, pitch_05_smc)],
         lw=(1.3, 1.3, 1.1), leg=(667, 19), cap=('(b)', 665, 367)),
    dict(x=(913.7, 1288.3), rows=[(27.5, 108), (129.5, 211), (231.5, 314)],
         ylabel='sideslip error [deg]', ylim=(-3, 3), yticks=[-2, 0, 2],
         data=[(slip_10_ap, slip_10_pr, slip_10_smc), (slip_15_ap, slip_15_pr, slip_15_smc), (slip_05_ap, slip_05_pr, slip_05_smc)],
         lw=(1.3, 1.3, 1.1), leg=(1105, 17.5), cap=('(c)', 1100, 367)),
    dict(x=(259.3, 634), rows=[(431.7, 511), (533.3, 614.3), (636, 718.3)],
         ylabel='energy error [J/kg]', ylim=(-35, 15.3), yticks=[-30, -20, -10, 0, 10],
         data=[(en_10_ap, en_10_pr, en_10_smc), (en_15_ap, en_15_pr, en_15_smc), (en_05_ap, en_05_pr, en_05_smc)],
         lw=(1.1, 1.1, 1.0), leg=(450, 421), cap=('(d)', 449, 773)),
    dict(x=(695.3, 1069.3), rows=[(432, 512), (534, 616), (637, 718.3)],
         ylabel='energy error [J/kg]', ylim=(-53, 105), yticks=[-50, 0, 50, 100],
         data=[(en2_10_ap, en2_10_pr, en2_10_smc), (en2_15_ap, en2_15_pr, en2_15_smc), (en2_05_ap, en2_05_pr, en2_05_smc)],
         lw=(1.1, 1.1, 1.0), leg=(886, 421.5), cap=('(e)', 887, 773)),
    dict(x=(260.7, 635), rows=[(829.3, 909.3), (931, 1012), (1035, 1115.7)],
         ylabel='airspeed [m/s]', ylim=(12, 18), yticks=[12, 14, 16, 18],
         data=[(air_10_ap, air_10_pr, air_10_smc), (air_15_ap, air_15_pr, air_15_smc), (air_05_ap, air_05_pr, air_05_smc)],
         lw=(1.1, 1.1, 1.0), leg=(456, 816.7), cap=('(f)', 449, 1168)),
    dict(x=(696.7, 1071), rows=[(830.7, 911.7), (932.3, 1014.3), (1035.3, 1116.7)],
         ylabel='altitude [m]', ylim=(44, 53), yticks=[44, 46, 48, 50, 52],
         data=[(alt_10_ap, alt_10_pr, alt_10_smc), (alt_15_ap, alt_15_pr, alt_15_smc), (alt_05_ap, alt_05_pr, alt_05_smc)],
         lw=(1.1, 1.1, 1.0), leg=(874, 820.8), cap=('(g)', 887, 1168)),
]

for p in panels:
    for i, (top, bottom) in enumerate(p['rows']):
        ax = fig.add_axes(rect(p['x'][0], top, p['x'][1], bottom))
        ap, pr, smc = p['data'][i]
        for series, col, ls, lw in ((ap, C_AP, '-', p['lw'][0]),
                                    (pr, C_PR, '-', p['lw'][1]),
                                    (smc, C_SMC, SMC_DASH, p['lw'][2])):
            ax.plot([s[0] for s in series], [s[1] for s in series],
                    color=col, linestyle=ls, linewidth=lw, zorder=2,
                    solid_joinstyle='round')
        ax.set_xlim(0, 80)
        ax.set_xticks(time_ticks)
        ax.set_ylim(*p['ylim'])
        ax.set_yticks(p['yticks'])
        ax.grid(True, color='#e1e1e1', linewidth=0.8)
        ax.set_axisbelow(True)
        ax.tick_params(direction='in', length=3, width=0.6, top=True, right=True,
                       labelsize=7.4, pad=3, colors=TXT)
        for sp in ax.spines.values():
            sp.set_color(TXT)
            sp.set_linewidth(0.8)
        ax.set_ylabel(p['ylabel'], fontsize=8, color=TXT, labelpad=2)
        ax.text(0.985, 0.05, mass_labels[i], transform=ax.transAxes, ha='right',
                va='bottom', fontsize=8, color='black', zorder=1.5,
                bbox=dict(facecolor='white', edgecolor='none', pad=0.8))
        if i == 2:
            ax.set_xlabel('time [s]', fontsize=8, color=TXT, labelpad=2)

    handles = [Line2D([], [], color=C_AP, lw=1.2),
               Line2D([], [], color=C_PR, lw=1.2),
               Line2D([], [], color=C_SMC, lw=1.1, linestyle=SMC_DASH)]
    fig.legend(handles, series_labels, loc='center',
               bbox_to_anchor=(p['leg'][0] / W, 1 - p['leg'][1] / H),
               ncol=3, fontsize=7.4, frameon=True, fancybox=False,
               edgecolor=TXT, framealpha=1, handlelength=3.3,
               columnspacing=0.7, handletextpad=0.3, borderpad=0.35,
               borderaxespad=0)
    cap, cx, cy = p['cap']
    fig.text(cx / W, 1 - cy / H, cap, ha='center', va='center', fontsize=11.5,
             family=['Liberation Serif', 'DejaVu Serif'])

fig.savefig('out.png', dpi=100, facecolor='white')
